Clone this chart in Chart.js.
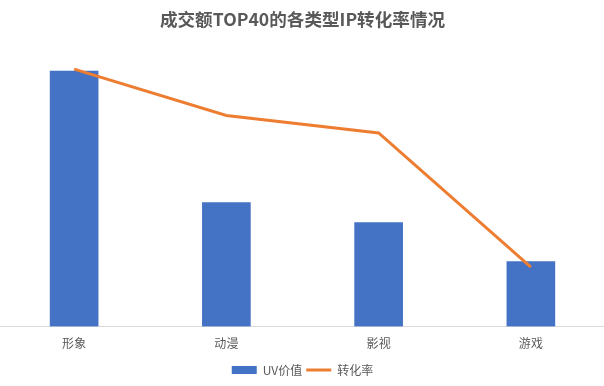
<!DOCTYPE html>
<html><head><meta charset="utf-8">
<script src="https://cdn.jsdelivr.net/npm/chart.js@4"></script>
<style>html,body{margin:0;padding:0;background:#fff;overflow:hidden;width:604px;height:386px}#wrap{width:609px;height:386px;margin-left:-2px}</style>
</head><body><div id="wrap"><canvas id="c"></canvas></div>
<script>
const categories = ['形象', '动漫', '影视', '游戏'];
const uvValues = [2.704, 1.310, 1.099, 0.687];
const conversionRates = [0.2725, 0.2234, 0.2049, 0.0629];
const seriesNames = ['UV价值', '转化率'];
const titleText = '成交额TOP40的各类型IP转化率情况';

const FONT = "'Noto Sans CJK SC', 'Microsoft YaHei', sans-serif";
new Chart(document.getElementById('c'), {
  data: {
    labels: categories,
    datasets: [
      { type: 'line', label: seriesNames[1], data: conversionRates, borderColor: '#ED7D31', backgroundColor: '#ED7D31',
        borderWidth: 3, pointRadius: 0, tension: 0, yAxisID: 'y1', pointStyle: 'line' },
      { type: 'bar', label: seriesNames[0], data: uvValues, backgroundColor: '#4472C4', borderWidth: 0,
        yAxisID: 'y', barThickness: 48, pointStyle: 'rect' }
    ]
  },
  options: {
    responsive: true, maintainAspectRatio: false, animation: false,
    layout: { padding: { left: 0, right: 0, top: 9, bottom: 0 } },
    plugins: {
      title: { display: true, text: titleText, color: '#595959', font: { family: FONT, size: 17.6, weight: 'bold' }, padding: { top: 0, bottom: 13 } },
      legend: { position: 'bottom', reverse: true,
        labels: { usePointStyle: true, pointStyleWidth: 25, boxHeight: 8, color: '#595959', font: { family: FONT, size: 12 }, padding: 4 } },
      tooltip: { enabled: false }
    },
    scales: {
      x: { grid: { display: false, drawTicks: false }, border: { color: '#D9D9D9', width: 1 },
        ticks: { color: '#595959', font: { family: FONT, size: 12 }, padding: 9.6 } },
      y: { display: false, min: 0, max: 3 },
      y1: { display: false, min: 0, max: 0.3, position: 'right' }
    }
  }
});
</script></body></html>
